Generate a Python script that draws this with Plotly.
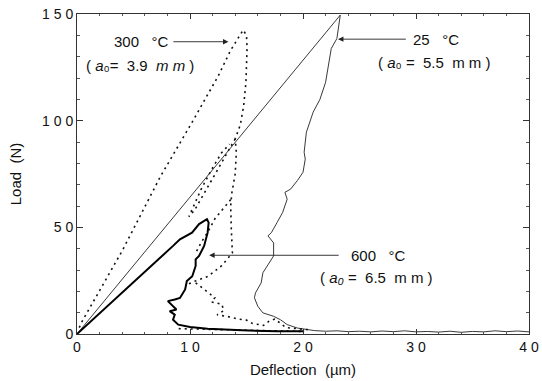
import plotly.graph_objects as go

# ---------------- data ----------------
# 25 °C  (a0 = 5.5 mm)
x25 = [0, 23.3, 23.0, 22.5, 22.0, 21.5, 20.9, 20.3, 20.1, 20.2, 20.0, 19.5, 18.9, 18.4, 18.6,
       18.2, 17.7, 17.2, 16.9, 17.4, 17.4, 16.8, 16.45, 16.3, 15.8, 15.7, 16.0, 16.45, 17.4,
       18.0, 18.6, 19.5, 20.7, 21, 22, 23, 24, 25, 26, 27, 28, 29, 30, 31, 32, 33, 34, 35,
       36, 37, 38, 39, 40]
y25 = [0, 149.5, 138.5, 133.8, 118, 110, 104, 94.6, 85.2, 82, 75.8, 71.9, 67.9, 66.4, 63.2,
       57, 52.2, 47.5, 46, 42.7, 36.6, 31.8, 28.7, 24, 19.3, 17, 13, 9.9, 8.3,
       6.7, 4.4, 2.8, 2.0, 1.6, 1.3, 1.5, 1.1, 1.3, 1.0, 1.4, 1.1, 1.5, 1.0, 1.2, 0.9, 1.3,
       0.8, 1.2, 1.0, 1.5, 1.1, 1.4, 1.0]

# 300 °C  (a0 = 3.9 mm); None separates pieces of the record
x300 = [0.2, 0.44, 4.0, 7.4, 10.3, 12.5, 13.6, 14.7, 15.0, 15.05,
        14.95, 14.75, 14.45, 14.0, 14.1, 14.0, 13.7, 13.6, 13.65, 13.7, 13.75, 12.8, 11.6,
        10.3, 9.7, None,
        14.0, 13.2, 12.3, 11.3, 10.4, 9.9, 10.3, 11.0, 11.9, 12.8, 13.5, None,
        13.6, 12.9, 12.2, 11.6, 11.0, 10.5, None,
        10.5, 11.5, 12.2, 11.9, 12.8, 13.0, 12.4, 13.5, 14.3, 15.0, 15.5, 16.5, 17.0, 17.5,
        18.0, 18.5, 19.5, 20.5, None,
        9.0, 12.0, 15.0, 18.0, 20.0]
y300 = [3, 5.8, 39, 74, 100.3, 121, 133, 142.5, 140, 134,
        118, 107, 98, 91.5, 85, 75, 66, 60, 50, 42, 38, 32, 27,
        24.5, 23, None,
        91.5, 84, 76, 66, 58, 55, 60, 68, 77, 85, 89, None,
        63, 58.5, 54, 48, 43, 38, None,
        24, 20, 17, 15, 14, 11, 9, 8, 7, 6.5, 5, 4, 6, 7,
        5, 3, 2.5, 2, None,
        2.5, 2.2, 1.8, 1.5, 1.2]

# 600 °C  (a0 = 6.5 mm)
x600 = [0, 7.43, 8.5, 9.11, 10.18, 10.8, 11.5, 11.65, 11.56, 11.25, 10.8, 10.5, 10.5, 10.2,
        9.72, 9.57, 9.11, 8.65, 8.04, 8.8, 8.2, 8.65, 8.5, 8.96, 10.0, 11.56, 14.6, 17.7, 20.1]
y600 = [0, 35.8, 41.3, 44.4, 47.5, 51.5, 53.8, 52.2, 47.5, 41.3, 36.6, 35.0, 31.9, 27.1,
        24.8, 20.9, 16.9, 16.2, 15.4, 11.5, 10.7, 9.1, 6.7, 4.4, 3.3, 2.5, 1.7, 1.25, 1.25]

xticks = [0, 10, 20, 30, 40]
xticklabels = ["0", "1 0", "2 0", "3 0", "4 0"]
yticks = [0, 50, 100, 150]
yticklabels = ["0", "5 0", "1 0 0", "1 5 0"]

# ---------------- figure ----------------
fig = go.Figure()
fig.add_trace(go.Scatter(x=x25, y=y25, mode="lines",
                         line=dict(color="#222", width=0.9), showlegend=False))
fig.add_trace(go.Scatter(x=x300, y=y300, mode="lines", connectgaps=False,
                         line=dict(color="#111", width=1.6, dash="2px,4px"), showlegend=False))
fig.add_trace(go.Scatter(x=x600, y=y600, mode="lines",
                         line=dict(color="#000", width=2.0), showlegend=False))

FAM = "Arial, Liberation Sans, sans-serif"
font = dict(family=FAM, size=15, color="#111")


def label(x, y, txt, tip=None, pad=1):
    if tip is None:
        fig.add_annotation(x=x, y=y, xref="x", yref="y", text=txt, showarrow=False,
                           font=font, xanchor="center", yanchor="middle")
    else:
        fig.add_annotation(x=tip, y=y, ax=x, ay=y, xref="x", yref="y", axref="x", ayref="y",
                           text=txt, showarrow=True, arrowhead=2, arrowsize=1.2,
                           arrowwidth=0.9, arrowcolor="#222", borderpad=pad, font=font)


label(5.7, 137, "300   °C", tip=13.4, pad=4)
label(5.6, 126, "( <i>a</i>₀=  3.9  <i>m m</i> )")
label(31.8, 138.2, "25   °C", tip=23.1, pad=7)
label(31.6, 127.5, "( <i>a</i>₀ =  5.5  m m )")
label(26.7, 36.9, "600   °C", tip=11.7, pad=12)
label(26.5, 26.5, "( <i>a₀</i> =  6.5  m m )")

axis_common = dict(showline=True, linecolor="#333", linewidth=1, mirror="ticks",
                   ticks="inside", tickcolor="#333", showgrid=False, zeroline=False,
                   automargin=False, tickfont=dict(family=FAM, size=14, color="#111"))

fig.update_xaxes(range=[0, 40], tickvals=xticks, ticktext=xticklabels, ticklen=5,
                 title=dict(text="Deflection  (µm)", font=dict(family=FAM, size=15, color="#111"),
                            standoff=10),
                 minor=dict(ticks="inside", dtick=2, ticklen=2, tickcolor="#555"),
                 **axis_common)
fig.update_yaxes(range=[0, 150], tickvals=yticks, ticktext=yticklabels, ticklen=6,
                 title=dict(text="Load  (N)", font=dict(family=FAM, size=15, color="#111"),
                            standoff=16),
                 minor=dict(ticks="inside", dtick=10, ticklen=3, tickcolor="#555"),
                 **axis_common)

fig.update_layout(width=542, height=381, margin=dict(l=77, r=13, t=14, b=47),
                  plot_bgcolor="white", paper_bgcolor="white", showlegend=False)

fig.write_html("out.html")
